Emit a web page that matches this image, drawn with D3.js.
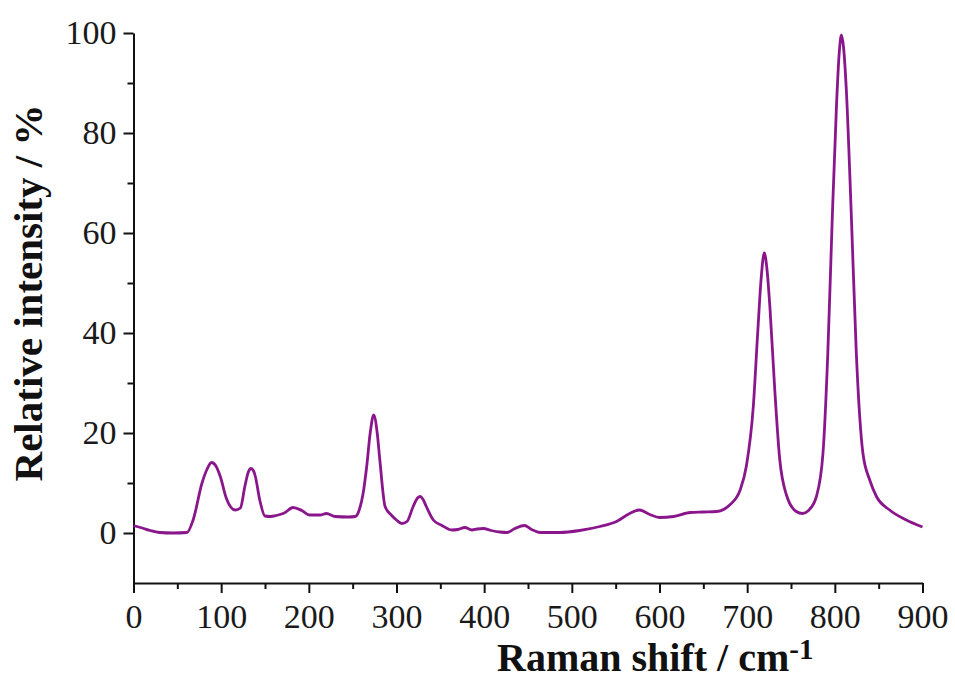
<!DOCTYPE html>
<html lang="en">
<head>
<meta charset="utf-8"/>
<title>Raman spectrum</title>
<script src="https://cdn.jsdelivr.net/npm/d3@7/dist/d3.min.js"></script>
<style>
  body { margin: 0; background: #fff; }
  svg { display: block; }
</style>
</head>
<body>
<svg id="chart" width="955" height="682"></svg>
<script>
// Raman shift (cm-1) and relative intensity (%)
const shift = [0, 10, 19, 30, 45, 61, 68, 78, 84, 89, 94, 99, 106, 116, 122, 127, 131, 134, 137, 139,
  144, 150, 156, 163, 172, 182, 192, 201, 213, 220, 230, 245, 253, 258, 262, 266, 270, 274, 278, 281,
  287, 294, 300, 306, 312, 319, 324, 327, 330, 334, 342, 351, 363, 370, 378, 386, 392, 399, 408, 418,
  426, 435, 446, 454, 464, 486, 509, 532, 551, 566, 577, 589, 600, 616, 635, 650, 665, 680, 692, 699,
  707, 712, 716, 719.5, 723, 726, 731.5, 737, 745, 756, 763, 770, 779, 786.5, 792, 797, 802, 805, 807.5,
  810, 813, 819, 824.5, 832, 840, 847.5, 862.5, 881.5, 900];
const intensity = [1.5, 1.0, 0.5, 0.1, 0, 0.1, 2.6, 9.9, 12.8, 14.1, 13.4, 11.3, 6.9, 4.6, 5.0, 9.3, 12.2, 12.9, 12.4, 11.3,
  6.6, 3.4, 3.3, 3.5, 4.0, 5.1, 4.5, 3.6, 3.6, 3.9, 3.3, 3.2, 3.3, 4.9, 8, 13.3, 20, 23.6, 20, 14.6,
  5.3, 3.6, 2.6, 1.9, 2.3, 5.3, 7.0, 7.3, 6.8, 5.3, 2.6, 1.6, 0.6, 0.7, 1.1, 0.6, 0.8, 0.9, 0.5, 0.2,
  0.1, 0.9, 1.5, 0.7, 0.1, 0.1, 0.5, 1.3, 2.3, 3.9, 4.6, 3.7, 3.1, 3.3, 4.1, 4.2, 4.3, 5.6, 8.6, 13.3,
  25.3, 40, 51, 56, 52, 45, 28.6, 15, 7.5, 4.3, 3.9, 4.5, 7.3, 16, 36, 62.6, 86, 96, 99.6,
  97, 89, 62.6, 36, 16, 10.5, 7.3, 4.6, 2.6, 1.2];

const xMajor = [0, 100, 200, 300, 400, 500, 600, 700, 800, 900];
const xMinor = [50, 150, 250, 350, 450, 550, 650, 750, 850];
const yMajor = [0, 20, 40, 60, 80, 100];
const yMinor = [10, 30, 50, 70, 90];

const svg = d3.select('#chart');
const serif = '"Liberation Serif", "Times New Roman", serif';

const x = d3.scaleLinear().domain([0, 900]).range([133.5, 922.5]);
const y = d3.scaleLinear().domain([-10, 100]).range([583, 33]);

// minor ticks first, then the major axes on top
svg.append('g')
  .attr('transform', 'translate(0,583)')
  .call(d3.axisBottom(x).tickValues(xMinor).tickSize(6).tickFormat(''))
  .call(g => g.select('.domain').remove());
svg.append('g')
  .attr('transform', 'translate(133.5,0)')
  .call(d3.axisLeft(y).tickValues(yMinor).tickSize(6).tickFormat(''))
  .call(g => g.select('.domain').remove());

const xAxis = svg.append('g')
  .attr('transform', 'translate(0,583)')
  .call(d3.axisBottom(x).tickValues(xMajor).tickSize(10).tickSizeOuter(0).tickPadding(11).tickFormat(d3.format('d')));
const yAxis = svg.append('g')
  .attr('transform', 'translate(133.5,0)')
  .call(d3.axisLeft(y).tickValues(yMajor).tickSize(10).tickSizeOuter(0).tickPadding(7).tickFormat(d3.format('d')));

svg.selectAll('.tick line, .domain').attr('stroke', '#111').attr('stroke-width', 2);
[xAxis, yAxis].forEach(a => a.selectAll('text')
  .style('font-family', serif).style('font-size', '34px').attr('fill', '#1a1a1a'));

// spectrum
const line = d3.line()
  .x((d, i) => x(shift[i]))
  .y(d => y(d))
  .curve(d3.curveMonotoneX);

svg.append('path')
  .datum(intensity)
  .attr('d', line)
  .attr('fill', 'none')
  .attr('stroke', '#8a168b')
  .attr('stroke-width', 2.8)
  .attr('stroke-linejoin', 'round');

// axis titles
const xt = svg.append('text')
  .attr('x', 497).attr('y', 671)
  .style('font-family', serif).style('font-size', '40px').style('font-weight', 'bold')
  .attr('fill', '#111');
xt.append('tspan').text('Raman shift / cm');
xt.append('tspan').text('-1').attr('dy', -12).style('font-size', '29px');

svg.append('text')
  .attr('transform', 'translate(42,293) rotate(-90)')
  .attr('text-anchor', 'middle')
  .style('font-family', serif).style('font-size', '41px').style('font-weight', 'bold')
  .attr('fill', '#111')
  .text('Relative intensity / %');
</script>
</body>
</html>
